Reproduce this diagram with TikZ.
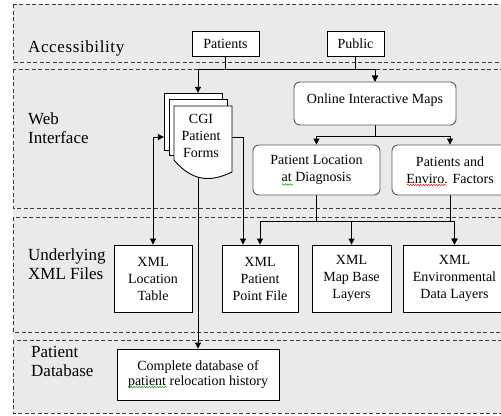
\documentclass[tikz,border=0pt]{standalone}
\usepackage{fontspec}
\setmainfont{Liberation Serif}
\usetikzlibrary{arrows.meta,decorations.pathmorphing}
\newcommand\boxfont{\fontsize{14bp}{17bp}\selectfont}
\newcommand\lanefont{\fontsize{17bp}{18.5bp}\selectfont}
\definecolor{lanegray}{RGB}{234,234,234}
\definecolor{dashgray}{RGB}{60,60,60}
\definecolor{spellred}{RGB}{225,40,40}
\definecolor{spellgreen}{RGB}{50,160,50}
\pgfdeclarelayer{lanes}
\pgfdeclarelayer{links}
\pgfsetlayers{lanes,links,main}
\begin{document}
\begin{tikzpicture}[x=1bp,y=-1bp,
  >={Triangle[length=6bp,width=6bp]},
  box/.style={draw=black, line width=0.9bp, fill=white, inner sep=0pt, font=\boxfont},
  rbox/.style={box, draw=black!65, rounded corners=6bp},
  lanelabel/.style={font=\lanefont, align=left, anchor=base west, inner sep=0pt},
  lanedash/.style={draw=dashgray, line width=0.9bp, dash pattern=on 4bp off 2.5bp},
  link/.style={draw=black, line width=0.9bp, ->},
  page/.style={fill=white, draw=black, line width=0.9bp},
  squiggle/.style={line width=0.6bp, decorate, decoration={snake, amplitude=0.7bp, segment length=2.6bp}}]
\useasboundingbox (0,0) rectangle (501,415);

% swim lanes
\begin{pgfonlayer}{lanes}
  \fill[lanegray] (13,4) rectangle (503,413);
  \draw[lanedash] (13,4) rectangle (503,62);
  \draw[lanedash] (13,69) rectangle (503,208);
  \draw[lanedash] (13,217) rectangle (503,332);
  \draw[lanedash] (13,340) rectangle (503,413);
\end{pgfonlayer}

\node[lanelabel] (lacc) at (28,52) {\addfontfeature{LetterSpace=3.6}Accessibility};
\node[lanelabel] (lweb) at (28,143) {Web\\Interface};
\node[lanelabel] (lxml) at (28,279) {Underlying\\XML Files};
\node[lanelabel] (ldb) at (31,376) {Patient\\Database};

% stacked CGI form pages
\filldraw[page] (164,93) rectangle (222,150);
\filldraw[page] (169,99.5) rectangle (227,155);
\filldraw[page] (174,106) -- (232,106) -- (232,172)
  .. controls (215,180) and (195,185) .. (174,160) -- cycle;
\node[inner sep=0pt, minimum width=68bp, minimum height=88bp] (cgi) at (198,137) {};
\node[inner sep=0pt, font=\boxfont, align=center] (cgitext) at (201,136) {CGI\\Patient\\Forms};

% boxes
\node[box, minimum width=67bp, minimum height=25bp] (patients) at (225.5,43.5) {Patients};
\node[box, minimum width=57bp, minimum height=25bp] (public) at (355.5,43.5) {Public};
\node[rbox, minimum width=162bp, text height=21bp, text depth=22bp] (maps) at (375,103.5) {Online Interactive Maps};
\node[rbox, align=center, minimum width=127bp, minimum height=50bp] (pld) at (316.5,170) {Patient Location\\at Diagnosis};
\node[rbox, align=center, minimum width=116bp, minimum height=50bp] (pef) at (450,170) {Patients and\\Enviro. Factors};
\node[box, align=center, minimum width=78bp, minimum height=67bp] (xloc) at (153,278.5) {XML\\Location\\Table};
\node[box, align=center, minimum width=76bp, minimum height=67bp] (xpoint) at (260,278.5) {XML\\Patient\\Point File};
\node[box, align=center, minimum width=79bp, minimum height=67bp] (xmap) at (351.5,278.5) {XML\\Map Base\\Layers};
\node[box, align=center, minimum width=103bp, minimum height=67bp] (xenv) at (454.5,278.5) {XML\\Environmental\\Data Layers};
\node[box, align=center, minimum width=162bp, minimum height=51bp] (db) at (198,374.5) {Complete database of\\[-1.5bp]patient relocation history};

% spell-check marks under words
\draw[squiggle, spellgreen] (282,184.5) -- (293,184.5);
\draw[squiggle, spellred] (407,185) -- (446,185);
\draw[squiggle, spellgreen] (128,387) -- (167,387);

% connectors
\coordinate (busA) at (0,69);
\coordinate (busB) at (0,136);
\coordinate (busC) at (0,221);
\begin{pgfonlayer}{links}
  \draw[link] (patients.south) -- (patients.south |- busA) -| (cgi.north);
  \draw[link] (patients.south) -- (patients.south |- busA) -| (maps.north);
  \draw[link] (public.south) -- (public.south |- busA) -| (maps.north);
  \draw[link] (maps.south) -- (maps.south |- busB) -| (pld.north);
  \draw[link] (maps.south) -- (maps.south |- busB) -| (pef.north);
  \draw[link] (pld.south) -- (pld.south |- busC) -| (xpoint.north);
  \draw[link] (pld.south) -- (pld.south |- busC) -| (xmap.north);
  \draw[link] (pld.south) -- (pld.south |- busC) -| (xenv.north);
  \draw[link] (pef.south) -- (pef.south |- busC) -| (xenv.north);
  \draw[link, <->] (xloc.north) |- (cgi.west);
  \draw[link] (cgi.east) -| ([xshift=-17bp]xpoint.north);
  \draw[link] (cgi.center) -- (cgi.center |- db.north);
\end{pgfonlayer}
\end{tikzpicture}
\end{document}
